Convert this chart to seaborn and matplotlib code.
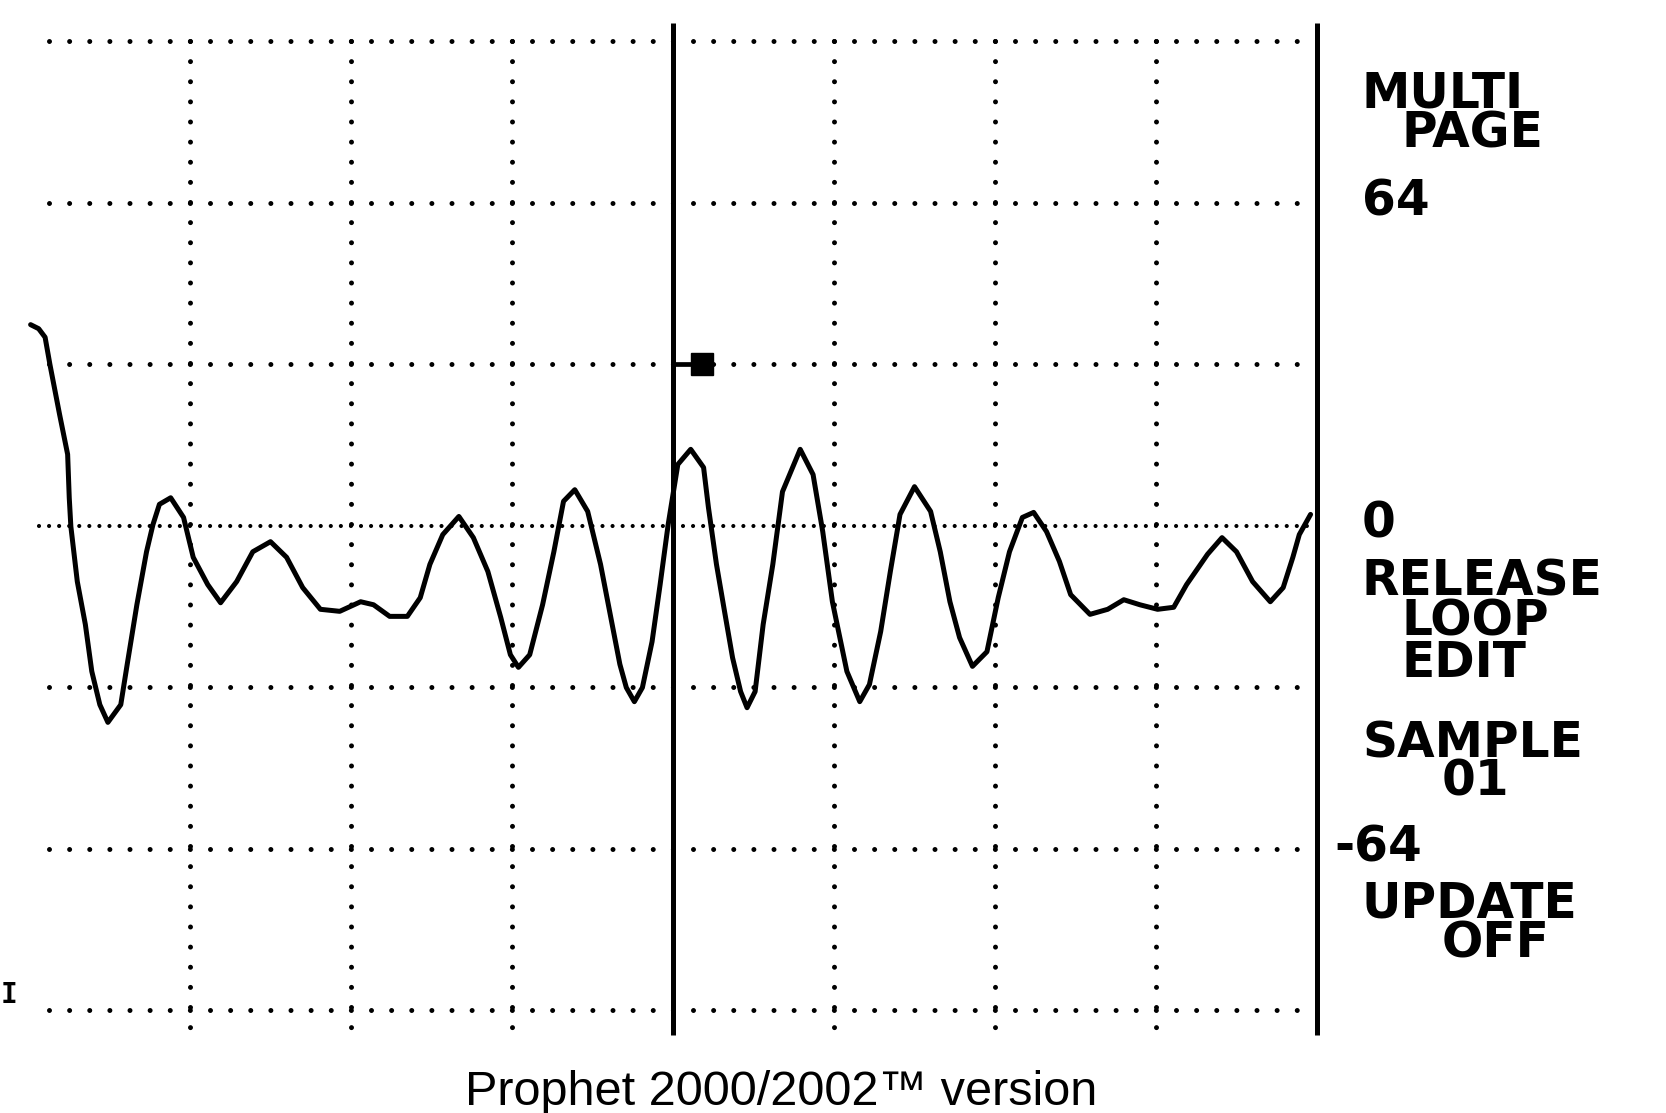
import seaborn as sns
import matplotlib.pyplot as plt
import matplotlib

matplotlib.use("Agg")

# waveform: position in grid divisions (0-8), amplitude (-96..96)
wave_pos = [0.01, 0.06, 0.10, 0.13, 0.19, 0.24, 0.25, 0.26, 0.30, 0.35, 0.39,
            0.44, 0.49, 0.57, 0.61, 0.67, 0.73, 0.77, 0.81, 0.88, 0.96,
            1.02, 1.11, 1.19, 1.29, 1.39, 1.50, 1.60, 1.70, 1.81, 1.93,
            2.06, 2.14, 2.24, 2.35, 2.43, 2.49, 2.57, 2.67, 2.76, 2.85,
            2.93, 2.99, 3.04, 3.11, 3.19, 3.26, 3.32, 3.39, 3.47, 3.55,
            3.61, 3.67, 3.71, 3.76, 3.81, 3.87, 3.92, 3.97, 4.03, 4.11,
            4.19, 4.22, 4.27, 4.32, 4.37, 4.42, 4.46, 4.51, 4.56, 4.62,
            4.68, 4.79, 4.87, 4.93, 4.99, 5.08, 5.16, 5.22, 5.29, 5.35,
            5.41, 5.50, 5.60, 5.66, 5.72, 5.78, 5.86, 5.95, 6.02, 6.09,
            6.17, 6.24, 6.32, 6.40, 6.47, 6.59, 6.70, 6.80, 6.90, 7.01,
            7.11, 7.19, 7.32, 7.41, 7.50, 7.60, 7.71, 7.79, 7.85, 7.89,
            7.96]
wave_amp = [39.8, 39.0, 37.3, 31.9, 22.0, 14.1, 5.5, -0.2, -11.1, -19.6, -28.9,
            -35.5, -39.0, -35.5, -27.5, -15.7, -5.2, 0.2, 4.2, 5.5, 1.6,
            -6.3, -11.7, -15.3, -11.1, -5.2, -3.2, -6.3, -12.3, -16.6, -17.0,
            -15.1, -15.7, -18.0, -18.0, -14.3, -7.7, -1.8, 1.8, -2.4, -9.1,
            -18.2, -25.6, -28.1, -25.6, -15.7, -5.2, 4.8, 7.1, 2.8, -7.7,
            -17.6, -27.5, -32.1, -34.9, -32.1, -23.0, -11.7, 0.2, 12.1, 15.1,
            11.5, 3.6, -7.7, -17.0, -26.2, -32.9, -36.1, -32.9, -19.6, -7.7,
            6.7, 15.1, 10.1, -1.2, -15.1, -28.9, -34.9, -31.5, -21.0, -9.1,
            2.2, 7.7, 2.8, -5.2, -15.1, -22.2, -27.9, -25.0, -14.3, -5.2,
            1.6, 2.6, -1.2, -7.1, -13.7, -17.6, -16.6, -14.7, -15.7, -16.6,
            -16.2, -11.7, -5.7, -2.4, -5.2, -11.1, -15.1, -12.3, -6.3, -1.8,
            2.2]

grid_levels = [96, 64, 32, -32, -64, -96]
zero_level = 0
dotted_cols = [1, 2, 3, 5, 6, 7]
solid_cols = [4, 8]
loop_pos = 4.18
loop_level = 32

# menu texts on the right: (text, x px, baseline y px)
menu_items = [("MULTI", 1362, 108), ("PAGE", 1402, 148), ("64", 1362, 215),
              ("0", 1362, 538), ("RELEASE", 1362, 595), ("LOOP", 1402, 635),
              ("EDIT", 1402, 677), ("SAMPLE", 1362, 757), ("01", 1442, 795),
              ("-64", 1334, 862), ("UPDATE", 1362, 917), ("OFF", 1442, 957)]
caption = "Prophet 2000/2002\u2122 version"

W, H = 1666, 1113

sns.set_style("white")
plt.rcParams["lines.scale_dashes"] = False
plt.rcParams["text.color"] = "black"

fig = plt.figure(figsize=(W / 100, H / 100), dpi=100)
fig.patch.set_facecolor("white")
# x: 161 px per division, y: 5.047 px per unit
ax = fig.add_axes([(29 - 0.05 * 161) / W, 1 - 1037.8 / H, 8.1 * 161 / W, 1019.5 / H])
ax.set_xlim(-0.05, 8.05)
ax.set_ylim(-101.5, 100.5)
ax.axis("off")

dot_period = 20.125 / (100 / 72)
sparse = (0, (0.001, dot_period - 0.001))
dense = (0, (0.001, dot_period / 2 - 0.001))

for lv in grid_levels:
    ax.plot([0.125, 7.92], [lv, lv], color="black", lw=3.6,
            linestyle=sparse, dash_capstyle="round")
ax.plot([0.0625, 7.95], [zero_level, zero_level], color="black", lw=3.0,
        linestyle=dense, dash_capstyle="round")
for c in dotted_cols:
    ax.plot([c, c], [96, -100.2], color="black", lw=3.6,
            linestyle=sparse, dash_capstyle="round")
for c in solid_cols:
    ax.plot([c, c], [99.5, -101], color="black", lw=3.6,
            solid_capstyle="butt")

# loop point flag
ax.plot([4.0, 4.12], [loop_level, loop_level], color="black", lw=3.4)
ax.plot([loop_pos], [loop_level], marker="s", ms=16, color="black")

sns.lineplot(x=wave_pos, y=wave_amp, sort=False, estimator=None,
             color="black", lw=3.6, ax=ax)
wave = ax.lines[-1]
wave.set_clip_on(False)
wave.set_solid_joinstyle("round")
wave.set_solid_capstyle("round")

for txt, px, py in menu_items:
    fig.text(px / W, 1 - py / H, txt, ha="left", va="baseline", color="black",
             fontsize=35, fontweight="bold", family="DejaVu Sans")

fig.text(1 / W, 1 - 1003 / H, "I", ha="left", va="baseline", color="black",
         fontsize=20, fontweight="bold", family="DejaVu Sans Mono")

fig.text(781 / W, 1 - 1105 / H, caption, ha="center", va="baseline",
         color="black", fontsize=35, family="Liberation Sans")

fig.savefig("out.png", dpi=100, facecolor="white")
